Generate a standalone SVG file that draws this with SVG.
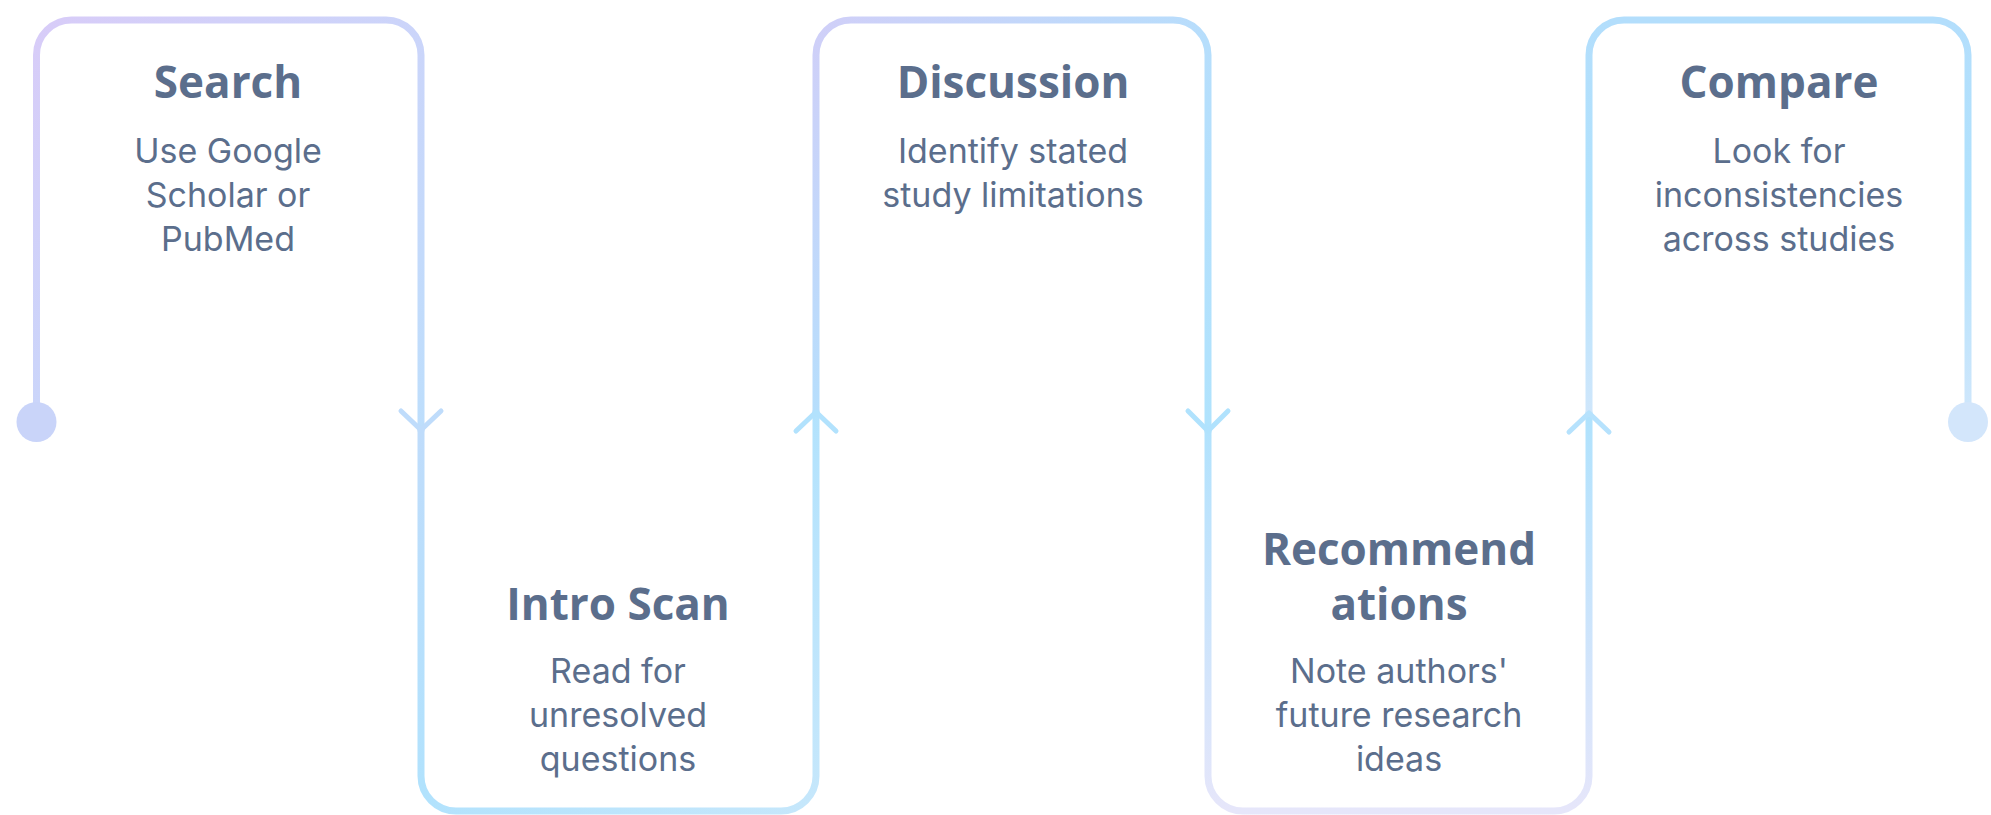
<svg xmlns="http://www.w3.org/2000/svg" width="1991" height="815" viewBox="0 0 1991 815">
<defs>
<style>
.bd{fill:none;stroke-width:7;stroke-linecap:round;stroke-linejoin:round}
.ah{fill:none;stroke-width:5;stroke-linecap:round;stroke-linejoin:round}
.t{font-family:"Open Sans","Liberation Sans",sans-serif;font-weight:700;font-size:44px;fill:#5b6e8c;text-anchor:middle}
.b{font-family:Inter,"Liberation Sans",sans-serif;font-weight:400;font-size:34px;fill:#5b6e8c;text-anchor:middle}
</style>
<linearGradient id="g1" gradientUnits="userSpaceOnUse" x1="36" y1="20" x2="421" y2="430"><stop offset="0" stop-color="#d8ccf8"/><stop offset="1" stop-color="#bddefc"/></linearGradient>
<linearGradient id="g2" gradientUnits="userSpaceOnUse" x1="421" y1="430" x2="816" y2="811"><stop offset="0" stop-color="#bfdcfb"/><stop offset="0.45" stop-color="#b1e2fd"/><stop offset="1" stop-color="#c6e7fb"/></linearGradient>
<linearGradient id="g3" gradientUnits="userSpaceOnUse" x1="816" y1="20" x2="1208" y2="430"><stop offset="0" stop-color="#d0cff8"/><stop offset="0.5" stop-color="#b6defc"/><stop offset="1" stop-color="#b0e3fd"/></linearGradient>
<linearGradient id="g4" gradientUnits="userSpaceOnUse" x1="0" y1="420" x2="0" y2="811"><stop offset="0" stop-color="#b0e2fd"/><stop offset="1" stop-color="#e6e6fa"/></linearGradient>
<linearGradient id="g5" gradientUnits="userSpaceOnUse" x1="0" y1="20" x2="0" y2="440"><stop offset="0" stop-color="#b3defc"/><stop offset="0.45" stop-color="#b0e2fd"/><stop offset="1" stop-color="#d3e7fb"/></linearGradient>
</defs>
<rect width="1991" height="815" fill="#ffffff"/>

<g id="node-search">
<path class="bd" stroke="url(#g1)" d="M36.5 422 V55 A35 35 0 0 1 71.5 20 H386 A35 35 0 0 1 421 55 V430"/>
<text class="t" x="228" y="98">Search</text>
<text class="b" x="228" y="163">Use Google</text>
<text class="b" x="228" y="207">Scholar or</text>
<text class="b" x="228" y="251">PubMed</text>
</g>

<g id="node-intro">
<path class="bd" stroke="url(#g2)" d="M421 430 V776 A35 35 0 0 0 456 811 H781 A35 35 0 0 0 816 776 V412"/>
<text class="t" x="618" y="620">Intro Scan</text>
<text class="b" x="618" y="683">Read for</text>
<text class="b" x="618" y="727">unresolved</text>
<text class="b" x="618" y="771">questions</text>
</g>

<g id="node-discussion">
<path class="bd" stroke="url(#g3)" d="M816 412 V55 A35 35 0 0 1 851 20 H1173 A35 35 0 0 1 1208 55 V431"/>
<text class="t" x="1013" y="98">Discussion</text>
<text class="b" x="1013" y="163">Identify stated</text>
<text class="b" x="1013" y="207">study limitations</text>
</g>

<g id="node-recommendations">
<path class="bd" stroke="url(#g4)" d="M1208 431 V776 A35 35 0 0 0 1243 811 H1554 A35 35 0 0 0 1589 776 V413"/>
<text class="t" x="1399" y="565">Recommend</text>
<text class="t" x="1399" y="620">ations</text>
<text class="b" x="1399" y="683">Note authors'</text>
<text class="b" x="1399" y="727">future research</text>
<text class="b" x="1399" y="771">ideas</text>
</g>

<g id="node-compare">
<path class="bd" stroke="url(#g5)" d="M1589 413 V55 A35 35 0 0 1 1624 20 H1933 A35 35 0 0 1 1968 55 V422"/>
<text class="t" x="1779" y="98">Compare</text>
<text class="b" x="1779" y="163">Look for</text>
<text class="b" x="1779" y="207">inconsistencies</text>
<text class="b" x="1779" y="251">across studies</text>
</g>

<g id="connectors">
<circle cx="36.5" cy="422" r="20" fill="#c9d4f9"/>
<circle cx="1968" cy="422" r="20" fill="#d3e6fb"/>
<path class="ah" stroke="#bfdcfb" d="M401 411 L421 430 L441 411"/>
<path class="ah" stroke="#b2e2fd" d="M796 431 L816 412 L836 431"/>
<path class="ah" stroke="#b0e2fd" d="M1188 411 L1208 431 L1228 411"/>
<path class="ah" stroke="#b6e2fd" d="M1569 432 L1589 413 L1609 432"/>
</g>
</svg>
